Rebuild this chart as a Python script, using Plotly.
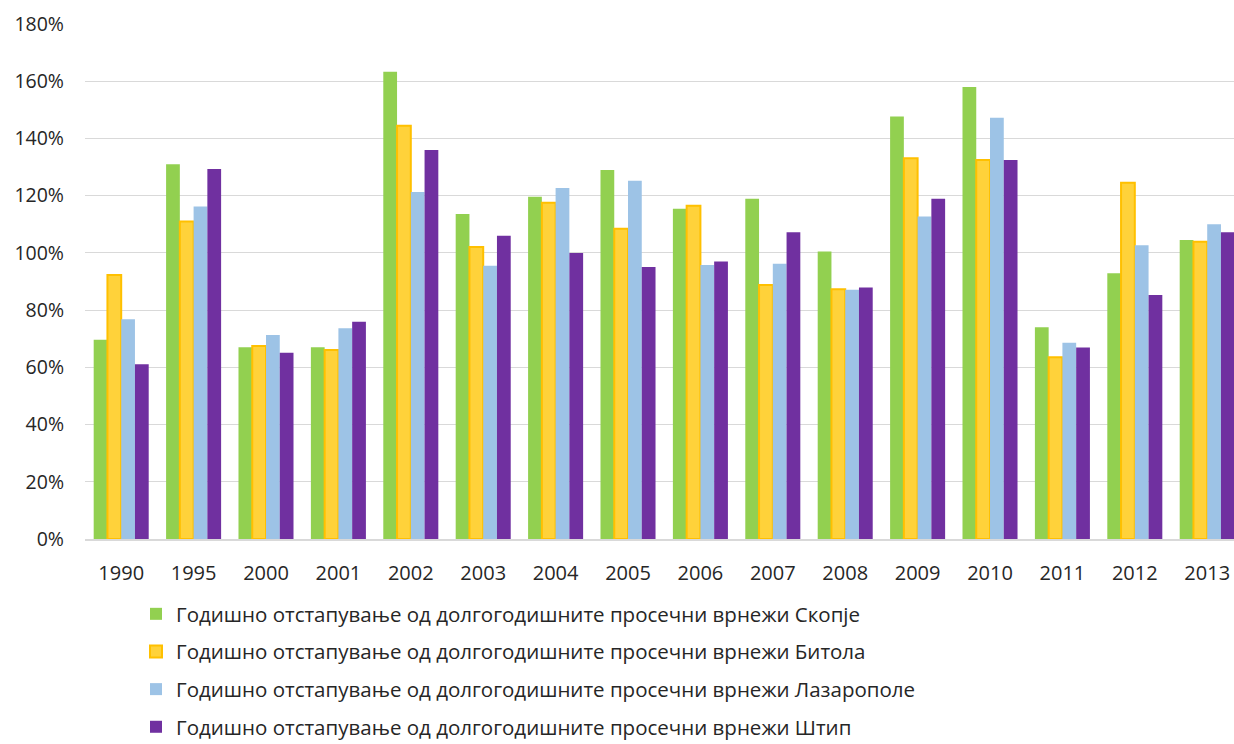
import plotly.graph_objects as go

years = ["1990", "1995", "2000", "2001", "2002", "2003", "2004", "2005",
         "2006", "2007", "2008", "2009", "2010", "2011", "2012", "2013"]

skopje = [69.6, 131.0, 67.0, 67.0, 163.3, 113.6, 119.6, 129.0,
          115.4, 118.9, 100.5, 147.7, 158.0, 74.0, 92.9, 104.5]
bitola = [92.3, 111.0, 67.5, 66.1, 144.4, 102.1, 117.5, 108.4,
          116.5, 88.8, 87.3, 133.1, 132.5, 63.5, 124.5, 103.9]
lazaropole = [76.8, 116.2, 71.3, 73.7, 121.3, 95.5, 122.7, 125.2,
              95.8, 96.2, 87.1, 112.7, 147.2, 68.6, 102.7, 110.0]
shtip = [61.1, 129.3, 65.1, 75.9, 136.0, 106.0, 100.0, 95.1,
         97.0, 107.2, 87.9, 118.9, 132.5, 66.9, 85.3, 107.2]

prefix = "Годишно отстапување од долгогодишните просечни врнежи "
stations = ["Скопје", "Битола", "Лазарополе", "Штип"]
series = [skopje, bitola, lazaropole, shtip]
fills = ["#92D050", "#FFD23A", "#9DC3E6", "#7030A0"]
outlines = ["#92D050", "#FFC000", "#9DC3E6", "#7030A0"]
outline_w = [0, 2, 0, 0]

fig = go.Figure()
for i, (name, vals) in enumerate(zip(stations, series)):
    fig.add_trace(go.Bar(
        x=years,
        y=[v / 100 for v in vals],
        name=prefix + name,
        legendgroup=name,
        marker=dict(color=fills[i],
                    line=dict(color=outlines[i], width=outline_w[i])),
    ))

font_family = "Open Sans, Noto Sans, sans-serif"

fig.update_layout(
    width=1234,
    height=744,
    paper_bgcolor="white",
    plot_bgcolor="white",
    barmode="group",
    bargap=0.24,
    bargroupgap=0.0,
    margin=dict(l=85, r=0, t=24, b=205, autoexpand=False),
    font=dict(family=font_family, color="#404040", size=20),
    xaxis=dict(
        range=[-0.5, 15.37],
        showgrid=False,
        showline=True,
        linecolor="#D9D9D9",
        linewidth=1.5,
        ticks="",
        ticklabelstandoff=15,
        tickfont=dict(size=20, color="#262626"),
    ),
    yaxis=dict(
        range=[0, 1.8],
        dtick=0.2,
        tickformat=".0%",
        showgrid=True,
        gridcolor="#D9D9D9",
        gridwidth=1.2,
        zeroline=False,
        ticks="",
        ticklabelstandoff=20,
        tickfont=dict(size=19.5, color="#262626"),
    ),
    legend=dict(
        orientation="v",
        x=(136 - 85) / 1149,
        xanchor="left",
        yref="container",
        y=1 - 594 / 744,
        yanchor="top",
        font=dict(size=20.5, color="#262626"),
        tracegroupgap=8,
        itemwidth=30,
    ),
)

fig.write_html("out.html")
